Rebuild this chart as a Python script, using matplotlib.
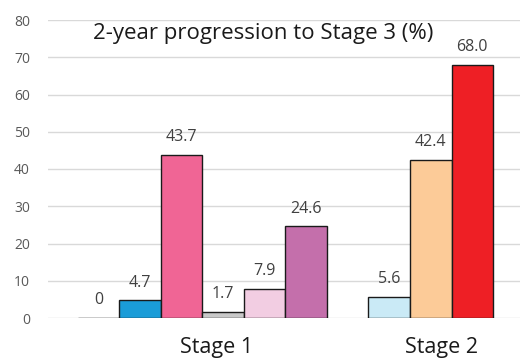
import numpy as np
import matplotlib
matplotlib.use("Agg")
import matplotlib.pyplot as plt

plt.rcParams['font.family'] = ['Open Sans', 'DejaVu Sans']

# bar positions (in bar widths) and values for each group
stage1_pos = [0, 1, 2, 3, 4, 5]
stage1_vals = [0, 4.7, 43.7, 1.7, 7.9, 24.6]
stage1_labels = ['0', '4.7', '43.7', '1.7', '7.9', '24.6']
stage1_colors = ['#bfbfbf', '#1a9cd8', '#f06595', '#c8c8c8', '#f2cde2', '#c46fab']

stage2_pos = [7, 8, 9]
stage2_vals = [5.6, 42.4, 68.0]
stage2_labels = ['5.6', '42.4', '68.0']
stage2_colors = ['#caeaf6', '#fccb98', '#ee1f25']

groups = ['Stage 1', 'Stage 2']
group_pos = [2.85, 8.25]
yticks = [0, 10, 20, 30, 40, 50, 60, 70, 80]

fig = plt.figure(figsize=(5.2, 3.6), dpi=100)
ax = fig.add_axes([48/520, 1-318/360, 1-48/520, 298/360])

for pos, vals, labs, cols in [(stage1_pos, stage1_vals, stage1_labels, stage1_colors),
                              (stage2_pos, stage2_vals, stage2_labels, stage2_colors)]:
    bars = ax.bar(pos, vals, width=1.0, color=cols, edgecolor='#1a1a1a', linewidth=1.0, zorder=3)
    ax.bar_label(bars, labels=labs, padding=7, fontsize=11.5, color='#404040')

ax.set_xlim(-1.22, 10.15)
ax.set_ylim(0, 80)
ax.set_yticks(yticks)
ax.yaxis.grid(True, color='#d9d9d9', linewidth=1.0, zorder=0)
ax.set_axisbelow(True)
for s in ax.spines.values():
    s.set_visible(False)
ax.tick_params(axis='y', length=0, pad=13, labelsize=10, labelcolor='#595959')
ax.set_xticks(group_pos)
ax.set_xticklabels(groups, fontsize=15.5, color='#1a1a1a')
ax.tick_params(axis='x', length=0, pad=14)

fig.text(263/520, 1-33/360, '2-year progression to Stage 3 (%)', ha='center', va='center',
         fontsize=16, color='#1a1a1a')

fig.savefig('out.png', dpi=100)
